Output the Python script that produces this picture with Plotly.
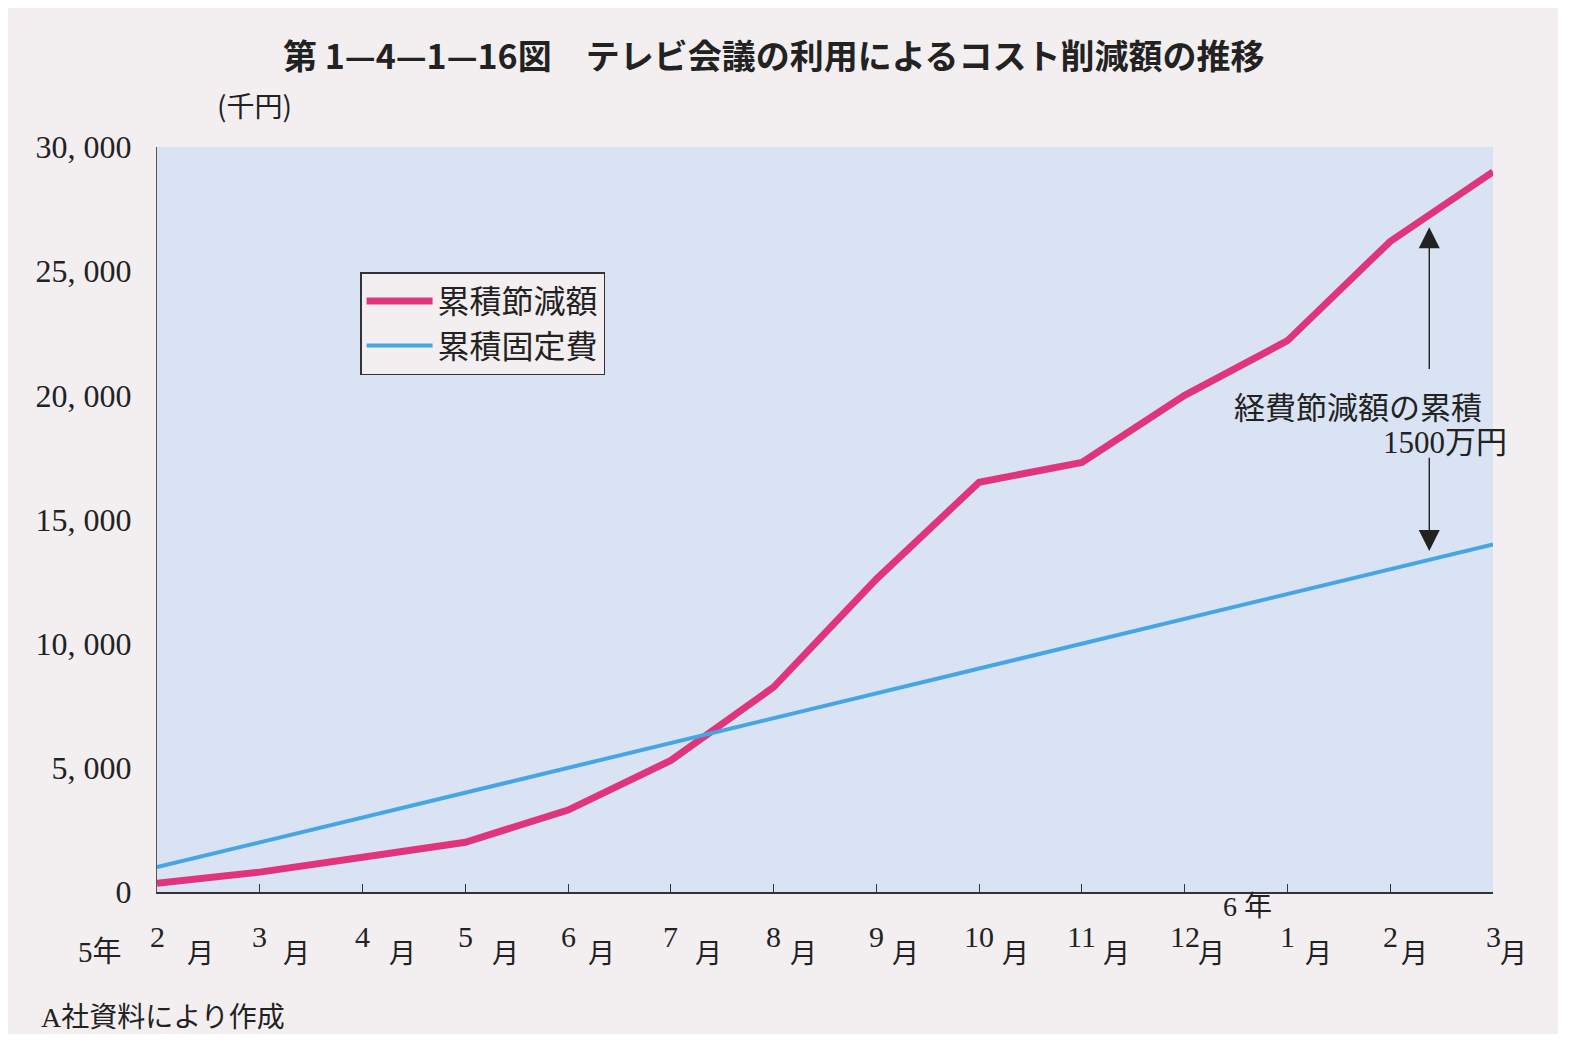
import numpy as np
import plotly.graph_objects as go

# ---- data ----
months = ["2", "3", "4", "5", "6", "7", "8", "9", "10", "11", "12", "1", "2", "3"]
savings = [350, 800, 1400, 2000, 3300, 5300, 8250, 12600, 16500, 17300, 20000, 22200, 26200, 29000]
fixed_cost = [1000, 2000, 3000, 4000, 5000, 6000, 7000, 8000, 9000, 10000, 11000, 12000, 13000, 14000]
y_ticks = [0, 5000, 10000, 15000, 20000, 25000, 30000]
y_tick_text = ["0", "5, 000", "10, 000", "15, 000", "20, 000", "25, 000", "30, 000"]
series_names = ["累積節減額", "累積固定費"]

# ---- styles ----
PINK = "#e0357c"
BLUE = "#46a6e4"
PAGE_BG = "#f3eff1"
PLOT_BG = "#d9e3f3"
SERIF = "Liberation Serif, Noto Sans CJK JP"
JP = "Noto Sans CJK JP"
month_offsets = [43, 37, 40, 40, 33, 38, 30, 29, 36, 35, 27, 31, 24, 20]  # px offset of 月

xs = list(range(len(months)))

fig = go.Figure()
fig.add_trace(go.Scatter(x=xs, y=savings, mode="lines", name=series_names[0],
                         line=dict(color=PINK, width=7), cliponaxis=False))
fig.add_trace(go.Scatter(x=xs, y=fixed_cost, mode="lines", name=series_names[1],
                         line=dict(color=BLUE, width=4), cliponaxis=False))

annotations = []
# title
annotations.append(dict(text="<b>第 1—4—1—16図　テレビ会議の利用によるコスト削減額の推移</b>",
                         xref="paper", yref="paper", x=0.462, y=1.124, xanchor="center",
                         yanchor="middle", showarrow=False,
                         font=dict(family=JP, size=34, color="#222")))
annotations.append(dict(text="(千円)", xref="paper", yref="paper", x=0.0436, y=1.056,
                        xanchor="left", yanchor="middle", showarrow=False,
                        font=dict(family=JP, size=28, color="#222")))
# x tick labels: number + 月
for i, m in enumerate(months):
    annotations.append(dict(text=m, x=i, y=-0.06, xref="x", yref="paper",
                            xanchor="center", yanchor="middle", showarrow=False,
                            font=dict(family="Liberation Serif", size=30, color="#222")))
    annotations.append(dict(text="月", x=i, y=-0.08, xref="x", yref="paper",
                            xshift=month_offsets[i], xanchor="center", yanchor="middle",
                            showarrow=False, font=dict(family=JP, size=27, color="#222")))
annotations.append(dict(text="5年", x=0, y=-0.08, xref="x", yref="paper", xshift=-57,
                        xanchor="center", yanchor="middle", showarrow=False,
                        font=dict(family=SERIF, size=29, color="#222")))
annotations.append(dict(text="6 年", x=11, y=-0.02, xref="x", yref="paper", xshift=-40,
                        xanchor="center", yanchor="middle", showarrow=False,
                        font=dict(family=SERIF, size=28, color="#222")))
annotations.append(dict(text="A社資料により作成", xref="paper", yref="paper", x=-0.088, y=-0.168,
                        xanchor="left", yanchor="middle", showarrow=False,
                        font=dict(family=SERIF, size=28, color="#222")))

# arrow showing gap between the two series
ax_x = 12.38
top_tip = float(np.interp(ax_x, xs, savings)) - 500
bot_tip = float(np.interp(ax_x, xs, fixed_cost)) + 350
mid = (top_tip + bot_tip) / 2
annotations.append(dict(x=ax_x, y=top_tip, ax=ax_x, ay=mid + 750, xref="x", yref="y",
                        axref="x", ayref="y", showarrow=True, arrowhead=2, arrowsize=3,
                        arrowwidth=1.4, arrowcolor="#222", text=""))
annotations.append(dict(x=ax_x, y=bot_tip, ax=ax_x, ay=mid - 2700, xref="x", yref="y",
                        axref="x", ayref="y", showarrow=True, arrowhead=2, arrowsize=3,
                        arrowwidth=1.4, arrowcolor="#222", text=""))
annotations.append(dict(text="経費節減額の累積", x=ax_x, y=19600, xref="x", yref="y",
                        xshift=-71, xanchor="center", yanchor="middle", showarrow=False,
                        font=dict(family=JP, size=31, color="#222")))
annotations.append(dict(text="1500万円", x=13, y=18100, xref="x", yref="y",
                        xshift=16, xanchor="right", yanchor="middle", showarrow=False,
                        font=dict(family=SERIF, size=31, color="#222")))

fig.update_layout(
    width=1550, height=1026,
    margin=dict(l=149, r=65, t=139, b=142),
    paper_bgcolor=PAGE_BG, plot_bgcolor=PLOT_BG,
    showlegend=True,
    legend=dict(x=0.152, y=0.832, xanchor="left", yanchor="top",
                bgcolor=PAGE_BG, bordercolor="#333", borderwidth=1.5,
                font=dict(family=JP, size=32, color="#222"),
                itemwidth=66, tracegroupgap=0),
    annotations=annotations,
    xaxis=dict(range=[0, 13], tickvals=xs, ticktext=[""] * len(xs), showgrid=False,
               zeroline=False, showline=True, linecolor="#333", linewidth=1.5,
               ticks="inside", ticklen=8, tickcolor="#333"),
    yaxis=dict(range=[0, 30000], tickvals=y_ticks, ticktext=y_tick_text, showgrid=False,
               zeroline=False, showline=True, linecolor="#555", linewidth=1,
               ticks="", ticklabelstandoff=18,
               tickfont=dict(family="Liberation Serif", size=32, color="#222")),
)

fig.write_html("out.html")
